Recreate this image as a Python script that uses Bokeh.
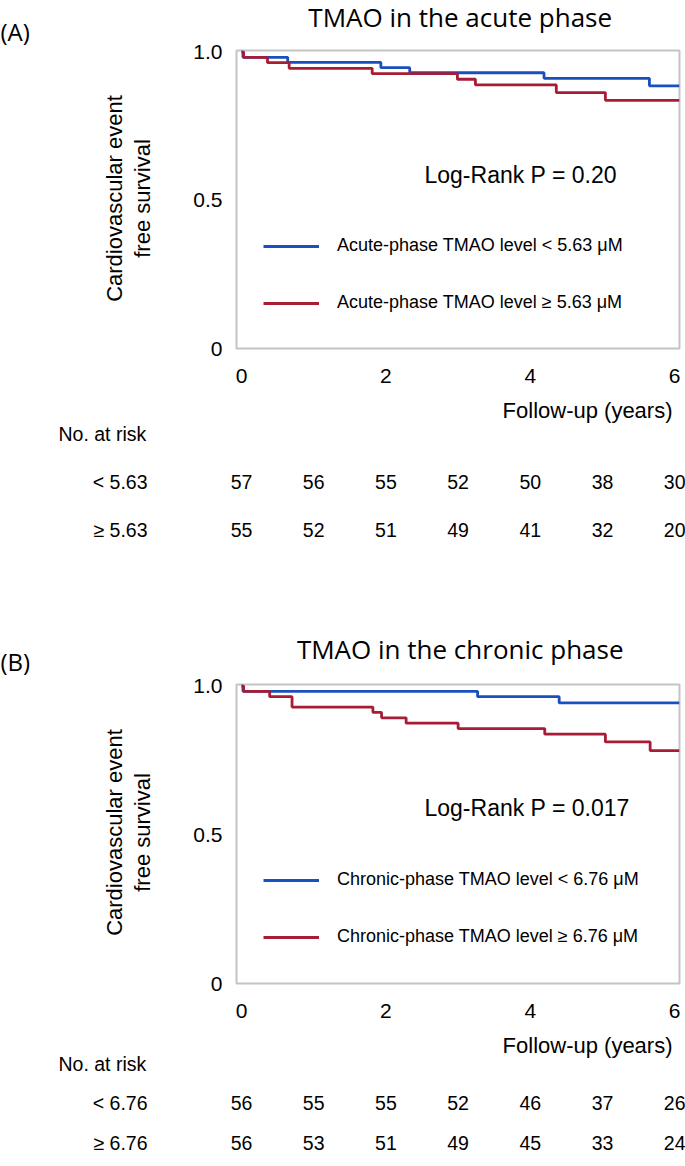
import numpy as np
from bokeh.plotting import figure
from bokeh.models import Range1d, FixedTicker, Label, Legend, LegendItem
from bokeh.layouts import column, row
from bokeh.embed import file_html
from bokeh.resources import INLINE
from bokeh.core.properties import value

# ---------------- data ----------------
x_ticks = [0, 2, 4, 6]
risk_years = [0, 1, 2, 3, 4, 5, 6]

# Panel A: acute phase
a_low_t = [0, 0.02, 0.64, 1.93, 2.33, 4.19, 5.65]
a_low_s = [1.0, 0.982, 0.965, 0.947, 0.930, 0.911, 0.886]
a_high_t = [0, 0.03, 0.36, 0.66, 1.81, 2.99, 3.24, 4.36, 5.04]
a_high_s = [1.0, 0.982, 0.964, 0.945, 0.927, 0.908, 0.889, 0.863, 0.837]
a_risk_low = [57, 56, 55, 52, 50, 38, 30]
a_risk_high = [55, 52, 51, 49, 41, 32, 20]

# Panel B: chronic phase
b_low_t = [0, 0.02, 3.27, 4.40]
b_low_s = [1.0, 0.982, 0.964, 0.943]
b_high_t = [0, 0.03, 0.39, 0.70, 1.82, 1.94, 2.28, 3.00, 4.20, 5.04, 5.66]
b_high_s = [1.0, 0.982, 0.964, 0.929, 0.911, 0.893, 0.875, 0.857, 0.838, 0.812, 0.783]
b_risk_low = [56, 55, 55, 52, 46, 37, 26]
b_risk_high = [56, 53, 51, 49, 45, 33, 24]

# ---------------- style / layout ----------------
ARIAL = "Liberation Sans"
TITLE_FONT = "Open Sans"
BLUE = "#1a4fc0"
RED = "#a81c35"

W = 685
YLAB_W = 188
T0_PX = 241.0          # page x of year 0
PX_PER_YR = 72.2
FRAME_L, FRAME_R = 236, 679
X_START = (FRAME_L - T0_PX) / PX_PER_YR
X_END = (FRAME_R - T0_PX) / PX_PER_YR
Y_START, Y_END = 0.0, 1.005
TITLE_X = 251          # local x of title centre inside the header


def tx(px):
    return (px - T0_PX) / PX_PER_YR


def blank(width, height, x_range=None):
    p = figure(width=width, height=height,
               x_range=x_range if x_range is not None else Range1d(0, width),
               y_range=Range1d(height, 0),
               output_backend="svg", toolbar_location=None,
               min_border=0, min_border_left=0, min_border_right=0,
               min_border_top=0, min_border_bottom=0)
    p.axis.visible = False
    p.grid.visible = False
    p.outline_line_color = None
    p.background_fill_color = "white"
    p.border_fill_color = "white"
    return p


def make_panel(letter, title, t_low, s_low, t_high, s_high, risk_low, risk_high,
               leg_low, leg_high, cut_low, cut_high, ptext, g):
    hdr_h, km_h = g["hdr_h"], g["km_h"]

    # ---- left strip: panel letter + y-axis label
    left = blank(YLAB_W, hdr_h + km_h)
    left.text(x=[0], y=[g["letter_y"]], text=[letter], text_font=value(TITLE_FONT),
              text_font_size=value("24px"), text_align="left", text_baseline="middle",
              text_color="black")
    left.text(x=[114, 142], y=[g["ylab_y"]] * 2,
              text=["Cardiovascular event", "free survival"],
              text_font=value(ARIAL), text_font_size=value("22px"),
              text_align="center", text_baseline="middle", angle=np.pi / 2,
              text_color="black")

    # ---- title header above the plot
    hdr = blank(W - YLAB_W, hdr_h)
    hdr.text(x=[TITLE_X], y=[g["title_y"]], text=[title], text_font=value(TITLE_FONT),
             text_font_size=value("26px"), text_align="center", text_baseline="middle",
             text_color="black")

    # ---- Kaplan-Meier plot
    frame_h = g["frame_h"]
    top = g["km_top"]
    km = figure(width=W - YLAB_W, height=km_h,
                x_range=Range1d(X_START, X_END), y_range=Range1d(Y_START, Y_END),
                output_backend="svg", toolbar_location=None,
                min_border_left=FRAME_L - YLAB_W, min_border_right=W - FRAME_R,
                min_border_top=top, min_border_bottom=km_h - top - frame_h)
    km.background_fill_color = "white"
    km.border_fill_color = "white"
    km.outline_line_color = "#c4c4c4"
    km.outline_line_width = 2
    km.grid.visible = False
    for ax in (km.xaxis[0], km.yaxis[0]):
        ax.axis_line_color = None
        ax.major_tick_line_color = None
        ax.minor_tick_line_color = None
        ax.major_tick_in = 0
        ax.major_tick_out = 0
        ax.major_label_text_font = ARIAL
        ax.major_label_text_font_size = "21px"
        ax.major_label_text_color = "black"
    km.xaxis.ticker = FixedTicker(ticks=x_ticks)
    km.xaxis.major_label_standoff = 20
    km.yaxis.ticker = FixedTicker(ticks=[0, 0.5, 1.0])
    km.yaxis.major_label_overrides = {0: "0", 0.5: "0.5", 1: "1.0"}
    km.yaxis.major_label_standoff = 14

    r1 = km.step(x=list(t_low) + [X_END], y=list(s_low) + [s_low[-1]], mode="after",
                 line_color=BLUE, line_width=2.8)
    r2 = km.step(x=list(t_high) + [X_END], y=list(s_high) + [s_high[-1]], mode="after",
                 line_color=RED, line_width=2.8)

    leg = Legend(items=[LegendItem(label=leg_low, renderers=[r1]),
                        LegendItem(label=leg_high, renderers=[r2])],
                 location=g["legend"], orientation="vertical",
                 glyph_width=56, glyph_height=20, label_height=20,
                 label_standoff=18, spacing=36, padding=0, margin=0,
                 border_line_color=None, background_fill_alpha=0,
                 label_text_font=ARIAL, label_text_font_size="18px",
                 label_text_color="black")
    km.add_layout(leg)

    px_per_unit = frame_h / (Y_END - Y_START)
    km.add_layout(Label(x=tx(424), y=g["p_rel"] / px_per_unit, text=ptext,
                        text_font=ARIAL, text_font_size="23px",
                        text_baseline="middle", text_align="left", text_color="black"))

    # ---- risk table
    rk_h = g["risk_h"]
    rk = blank(W, rk_h, x_range=Range1d(tx(0), tx(W)))
    rk.text(x=[tx(672)], y=[g["follow_y"]], text=["Follow-up (years)"],
            text_font=value(ARIAL), text_font_size=value("22px"),
            text_align="right", text_baseline="middle", text_color="black")
    rk.text(x=[tx(58)], y=[g["nrisk_y"]], text=["No. at risk"],
            text_font=value(ARIAL), text_font_size=value("19.5px"),
            text_align="left", text_baseline="middle", text_color="black")
    rk.text(x=[tx(147)] * 2, y=[g["row1_y"], g["row2_y"]], text=[cut_low, cut_high],
            text_font=value(ARIAL), text_font_size=value("19.5px"),
            text_align="right", text_baseline="middle", text_color="black")
    for counts, ry in ((risk_low, g["row1_y"]), (risk_high, g["row2_y"])):
        rk.text(x=risk_years, y=[ry] * len(risk_years), text=[str(c) for c in counts],
                text_font=value(ARIAL), text_font_size=value("19.5px"),
                text_align="center", text_baseline="middle", text_color="black")

    return column(row(left, column(hdr, km, spacing=0), spacing=0), rk, spacing=0)


panel_a = make_panel("(A)", "TMAO in the acute phase",
                     a_low_t, a_low_s, a_high_t, a_high_s, a_risk_low, a_risk_high,
                     "Acute-phase TMAO level < 5.63 μM", "Acute-phase TMAO level ≥ 5.63 μM",
                     "< 5.63", "≥ 5.63", "Log-Rank P = 0.20",
                     dict(hdr_h=38, letter_y=31, title_y=16, ylab_y=198,
                          km_h=354, km_top=12, frame_h=298,
                          legend=(27, 35), p_rel=348 - 174,
                          risk_h=208, follow_y=18, nrisk_y=41, row1_y=89, row2_y=137))

panel_b = make_panel("(B)", "TMAO in the chronic phase",
                     b_low_t, b_low_s, b_high_t, b_high_s, b_risk_low, b_risk_high,
                     "Chronic-phase TMAO level < 6.76 μM", "Chronic-phase TMAO level ≥ 6.76 μM",
                     "< 6.76", "≥ 6.76", "Log-Rank P = 0.017",
                     dict(hdr_h=72, letter_y=61, title_y=48, ylab_y=232,
                          km_h=353, km_top=12, frame_h=299,
                          legend=(27, 36), p_rel=983 - 807,
                          risk_h=140, follow_y=20, nrisk_y=38, row1_y=77, row2_y=117))

layout = column(panel_a, panel_b, spacing=0)
open("out.html", "w").write(file_html(layout, INLINE))
